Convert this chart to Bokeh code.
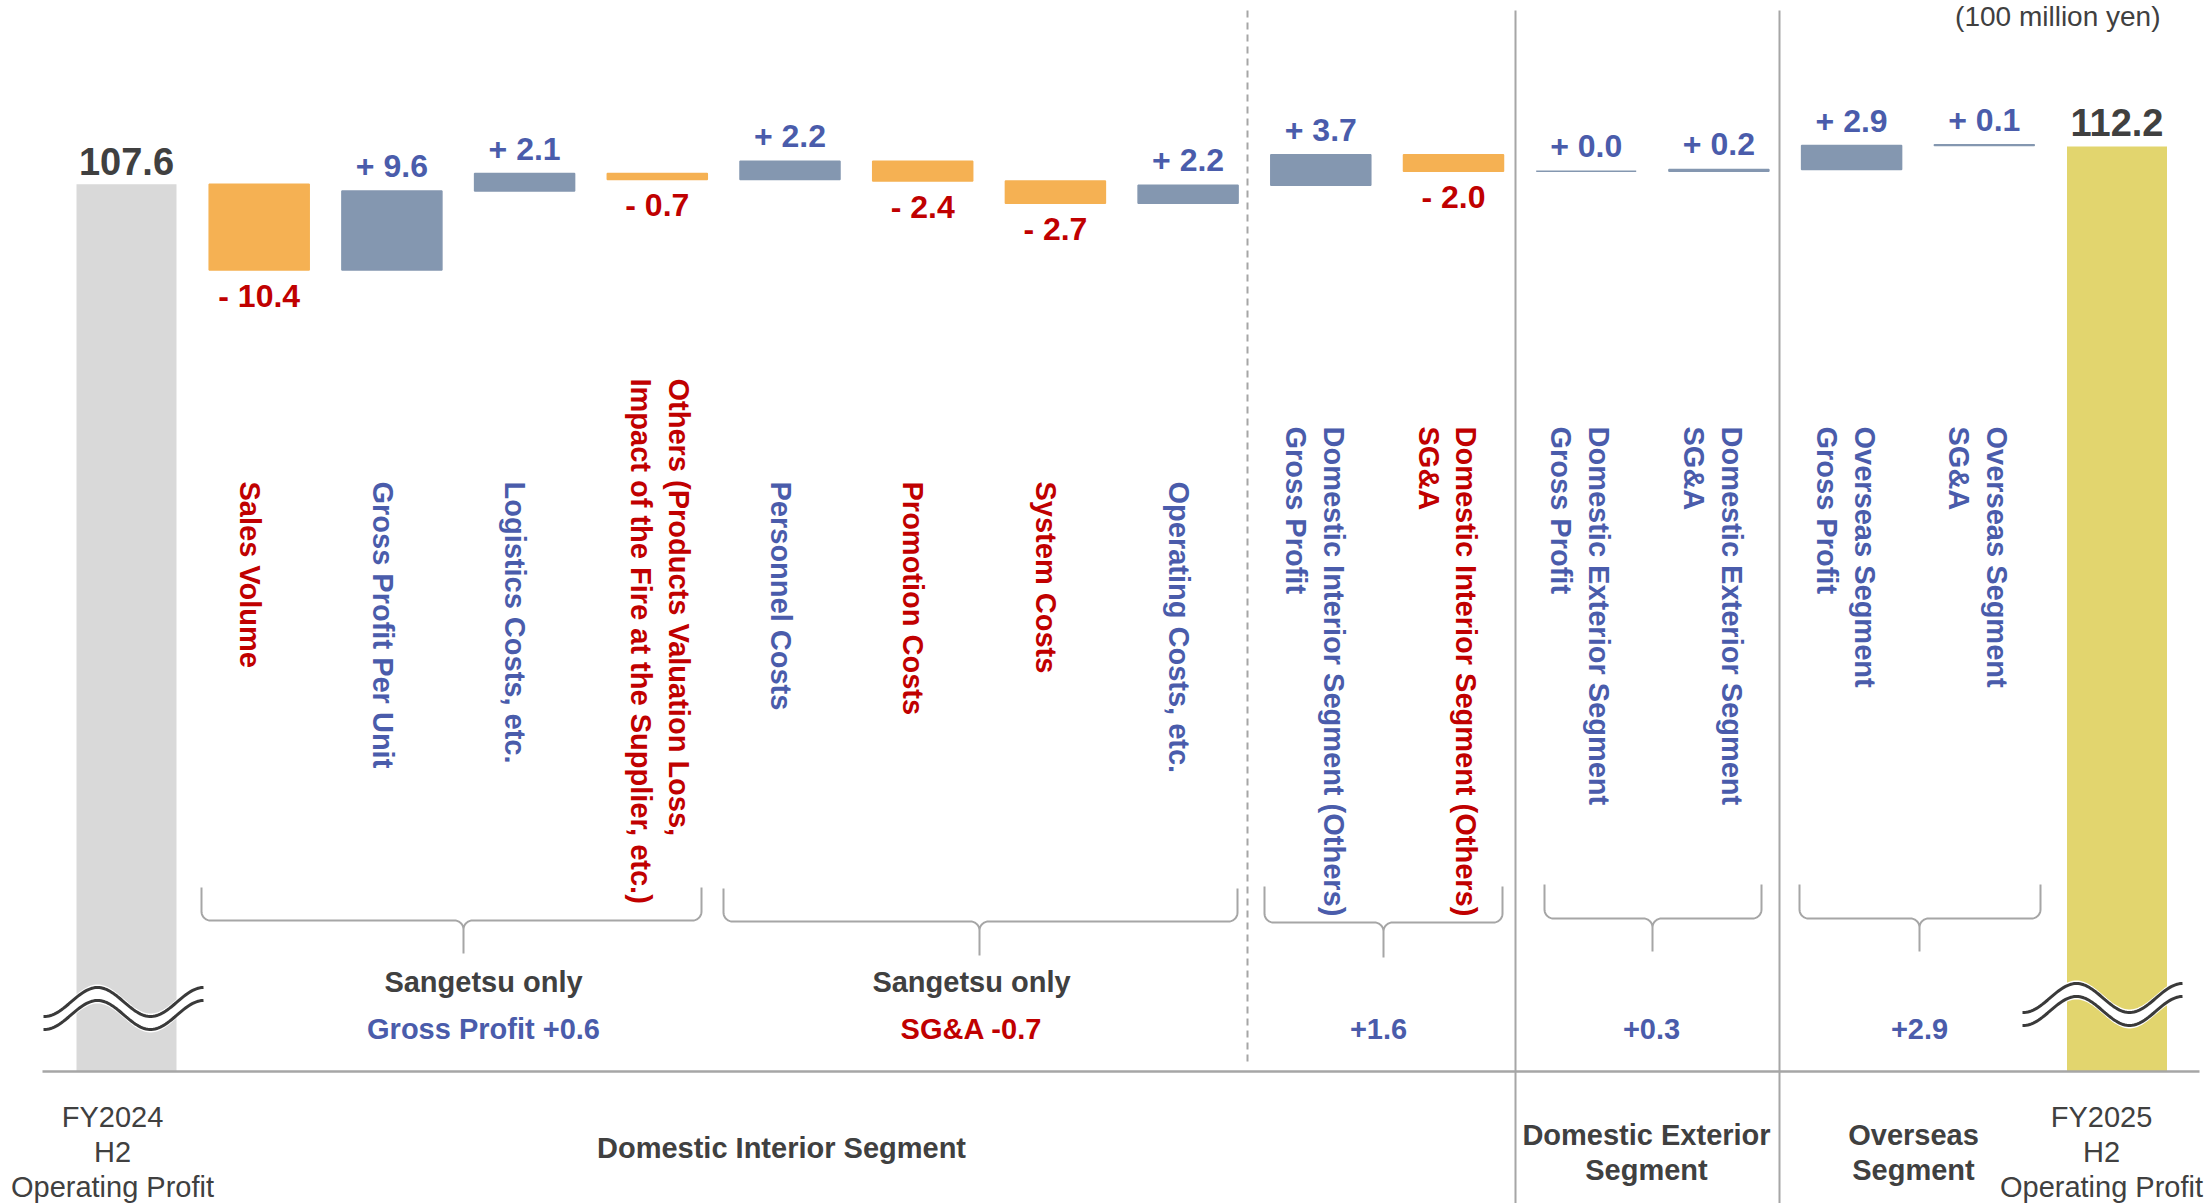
import numpy as np
from bokeh.plotting import figure
from bokeh.models import Range1d
from bokeh.core.properties import value
from bokeh.embed import file_html
from bokeh.resources import INLINE

# ---------------- data (100 million yen) ----------------
start_name = ["FY2024", "H2", "Operating Profit"]
end_name = ["FY2025", "H2", "Operating Profit"]
start_total = 107.6
end_total = 112.2

factors = [
    "Sales Volume",
    "Gross Profit Per Unit",
    "Logistics Costs, etc.",
    "Others  (Products Valuation Loss,\nImpact of the Fire at the Supplier, etc.)",
    "Personnel Costs",
    "Promotion Costs",
    "System Costs",
    "Operating Costs, etc.",
    "Domestic Interior Segment (Others)\nGross Profit",
    "Domestic Interior Segment (Others)\nSG&A",
    "Domestic Exterior Segment\nGross Profit",
    "Domestic Exterior Segment\nSG&A",
    "Overseas Segment\nGross Profit",
    "Overseas Segment\nSG&A",
]
changes = [-10.4, 9.6, 2.1, -0.7, 2.2, -2.4, -2.7, 2.2, 3.7, -2.0, 0.0, 0.2, 2.9, 0.1]

group_heads = ["Sangetsu only", "Sangetsu only", "", "", ""]
group_notes = ["Gross Profit +0.6", "SG&A -0.7", "+1.6", "+0.3", "+2.9"]
segments = [["Domestic Interior Segment"], ["Domestic Exterior", "Segment"], ["Overseas", "Segment"]]
unit_note = "(100 million yen)"

# ---------------- styling ----------------
FONT = value("Liberation Sans")
DARK = "#404040"
BLUE = "#4A5CAB"
RED = "#C00000"
BAR_UP = "#8497B0"
BAR_DOWN = "#F5B153"
BAR_START = "#D9D9D9"
BAR_END = "#E2D56E"
RULE = "#A6A6A6"

W, H = 2206, 1203
X0, XS = 126.0, 132.7      # screen x of first column centre, px per column
Y0, YS = 1071.0, 8.245     # screen y of the zero line, px per 100 million yen
BAR_W = 100 / XS
LIFT = 11                  # baseline correction for horizontal captions, px


def sx(px):
    return (px - X0) / XS


def sy(px):
    return (Y0 - px) / YS


p = figure(width=W, height=H,
           x_range=Range1d(sx(0), sx(W)), y_range=Range1d(sy(H), sy(0)),
           output_backend="svg", toolbar_location=None,
           x_axis_location=None, y_axis_location=None,
           min_border=0, outline_line_color=None,
           background_fill_color="white", border_fill_color="white")
p.grid.visible = False

# ---------------- waterfall bars ----------------
n = len(changes)
xs = list(range(1, n + 1))
lo, hi, cols = [], [], []
level = start_total
for d in changes:
    nxt = round(level + d, 1)
    lo.append(min(level, nxt))
    hi.append(max(level, nxt))
    cols.append(BAR_DOWN if d < 0 else BAR_UP)
    level = nxt

p.vbar(x=xs, bottom=lo, top=hi, width=BAR_W, fill_color=cols, line_color=cols, line_width=1.5)
p.vbar(x=[0, n + 1], bottom=[0, 0], top=[start_total, end_total], width=BAR_W,
       fill_color=[BAR_START, BAR_END], line_color=None)


# axis-break marks on the two totals
def wave(xc, ym):
    t = np.linspace(0, 1, 90)
    x = xc - 80 + 160 * t
    yu = ym - 14.5 * np.cos(2 * np.pi * (t - 0.3375) / 0.663)
    yl = yu + 13
    band_x = np.concatenate([x, x[::-1]])
    band_y = np.concatenate([yu - 3, (yl + 3)[::-1]])
    p.patch(sx(band_x), sy(band_y), fill_color="white", line_color=None)
    p.line(sx(x), sy(yu), line_color="#3A3A3A", line_width=3)
    p.line(sx(x), sy(yl), line_color="#3A3A3A", line_width=3)


wave(123, 1001.5)
wave(2102, 997.5)

# ---------------- rules ----------------
p.segment(x0=[sx(42)], y0=[0], x1=[sx(2199)], y1=[0], line_color=RULE, line_width=2.5)
p.segment(x0=[sx(1247)], y0=[sy(10)], x1=[sx(1247)], y1=[sy(1062)],
          line_color=RULE, line_width=2, line_dash="7 5")
p.segment(x0=[sx(1515), sx(1779)], y0=[sy(10), sy(10)], x1=[sx(1515), sx(1779)], y1=[sy(H), sy(H)],
          line_color=RULE, line_width=2)

# ---------------- value labels ----------------
lab_x, lab_y, lab_t, lab_c = [], [], [], []
for i, d in enumerate(changes):
    lab_x.append(xs[i])
    if d < 0:
        lab_t.append(f"- {abs(d):.1f}")
        lab_y.append(lo[i] - (37 - LIFT) / YS)
        lab_c.append(RED)
    else:
        lab_t.append(f"+ {d:.1f}")
        lab_y.append(hi[i] + (14 + LIFT) / YS)
        lab_c.append(BLUE)
p.text(x=lab_x, y=lab_y, text=lab_t, text_color=lab_c, text_font=FONT, text_font_size="32px",
       text_font_style="bold", text_align="center", text_baseline="alphabetic")

p.text(x=[0, n + 1], y=[start_total + (12 + LIFT) / YS, end_total + (13 + LIFT) / YS],
       text=[f"{start_total:.1f}", f"{end_total:.1f}"], text_color=DARK, text_font=FONT,
       text_font_size="38px", text_font_style="bold", text_align="center", text_baseline="alphabetic")

# ---------------- rotated factor names ----------------
top_px = [481, 481, 481, 378, 481, 481, 481, 481, 426, 426, 426, 426, 426, 426]
vx, vy, vc = [], [], []
for i, name in enumerate(factors):
    shift = -0.07 if "\n" not in name else (0.02 if i == 3 else -0.045)
    vx.append(xs[i] + shift)
    vy.append(sy(top_px[i]))
    vc.append(RED if changes[i] < 0 else BLUE)
p.text(x=vx, y=vy, text=factors, text_color=vc, angle=-np.pi / 2, text_font=FONT,
       text_font_size="29px", text_font_style="bold", text_align="left", text_baseline="middle",
       text_line_height=1.18)


# ---------------- braces ----------------
def brace(x0, xc, x1, ytop, ymid, ybot, r=9):
    def arc(cx, cy, a0, a1):
        a = np.radians(np.linspace(a0, a1, 12))
        return list(cx + r * np.cos(a)), list(cy + r * np.sin(a))

    px, py = [x0], [ytop]
    for ax, ay in [arc(x0 + r, ymid - r, 180, 90), arc(xc - r, ymid + r, 270, 360)]:
        px += ax
        py += ay
    px += [xc, xc]
    py += [ybot, ybot]
    for ax, ay in [arc(xc + r, ymid + r, 180, 270), arc(x1 - r, ymid - r, 90, 0)]:
        px += ax
        py += ay
    px.append(x1)
    py.append(ytop)
    p.line(sx(np.array(px)), sy(np.array(py)), line_color=RULE, line_width=2)


braces = [(201, 463, 701, 887, 920, 953), (723, 979, 1237, 888, 921, 955),
          (1264, 1383, 1502, 886, 922, 957), (1544, 1652, 1761, 884, 918, 951),
          (1799, 1919, 2040, 884, 918, 951)]
for b in braces:
    brace(*b)

# group summaries under the braces
note_x = [483, 971, 1378, 1651, 1919]
p.text(x=[sx(v) for v, h in zip(note_x, group_heads) if h],
       y=[sy(992 - LIFT)] * 2, text=[h for h in group_heads if h], text_color=DARK, text_font=FONT,
       text_font_size="29px", text_font_style="bold", text_align="center", text_baseline="alphabetic")
p.text(x=[sx(v) for v in note_x], y=[sy(1039 - LIFT)] * len(group_notes), text=group_notes,
       text_color=[RED if "-" in s else BLUE for s in group_notes], text_font=FONT,
       text_font_size="29px", text_font_style="bold", text_align="center", text_baseline="alphabetic")

# ---------------- bottom captions ----------------
seg_x = [781, 1646, 1913]
seg_base = [[1158], [1145, 1180], [1145, 1180]]
bx, by, bt = [], [], []
for cx, lines, bases in zip(seg_x, segments, seg_base):
    for ln, b in zip(lines, bases):
        bx.append(sx(cx))
        by.append(sy(b - LIFT))
        bt.append(ln)
p.text(x=bx, y=by, text=bt, text_color=DARK, text_font=FONT, text_font_size="29px",
       text_font_style="bold", text_align="center", text_baseline="alphabetic")

fx, fy, ft = [], [], []
for cx, lines in [(112, start_name), (2101, end_name)]:
    for ln, b in zip(lines, [1127, 1162, 1197]):
        fx.append(sx(cx))
        fy.append(sy(b - LIFT))
        ft.append(ln)
p.text(x=fx, y=fy, text=ft, text_color=DARK, text_font=FONT, text_font_size="29px",
       text_align="center", text_baseline="alphabetic")

p.text(x=[sx(2160)], y=[sy(27 - LIFT)], text=[unit_note], text_color=DARK, text_font=FONT,
       text_font_size="28px", text_align="right", text_baseline="alphabetic")

open("out.html", "w").write(file_html(p, INLINE))
